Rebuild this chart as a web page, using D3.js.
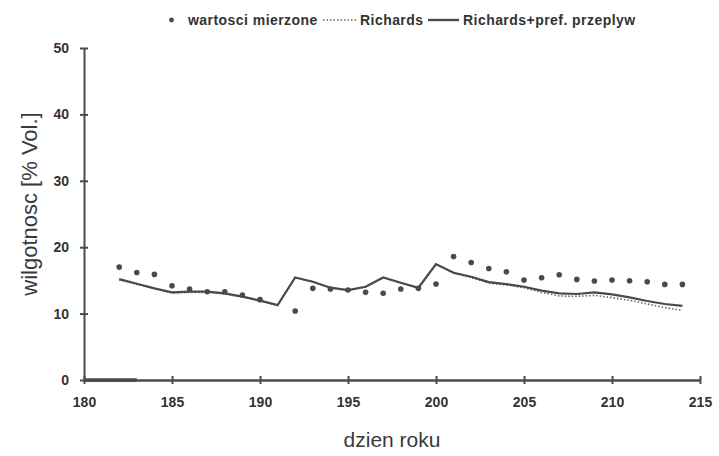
<!DOCTYPE html>
<html>
<head>
<meta charset="utf-8">
<script src="https://cdn.jsdelivr.net/npm/d3@7/dist/d3.min.js"></script>
<style>
  html, body { margin: 0; padding: 0; background: #fff; }
  svg { display: block; }
  text { font-family: "Liberation Sans", Arial, sans-serif; }
</style>
</head>
<body>
<svg id="chart" width="719" height="456"></svg>
<script>
// Soil moisture: measured values vs. Richards model runs
const days = [182,183,184,185,186,187,188,189,190,191,192,193,194,195,196,197,198,199,200,201,202,203,204,205,206,207,208,209,210,211,212,213,214];
const measuredDays = [182,183,184,185,186,187,188,189,190,192,193,194,195,196,197,198,199,200,201,202,203,204,205,206,207,208,209,210,211,212,213,214];
const measured = [17.0,16.2,15.9,14.2,13.7,13.3,13.3,12.8,12.1,10.4,13.8,13.7,13.55,13.2,13.05,13.7,13.8,14.45,18.6,17.7,16.8,16.3,15.05,15.4,15.85,15.15,14.9,15.05,14.95,14.8,14.4,14.4];
const richards = [15.1,14.4,13.8,13.1,13.2,13.2,12.95,12.5,11.9,11.2,15.4,14.8,13.9,13.5,14.0,15.4,14.6,13.8,17.4,16.1,15.4,14.6,14.3,13.9,13.2,12.65,12.6,12.75,12.4,12.0,11.45,10.9,10.5];
const richardsPref = [15.2,14.5,13.8,13.2,13.3,13.3,13.05,12.55,11.95,11.3,15.45,14.8,13.9,13.55,14.05,15.45,14.65,13.9,17.45,16.15,15.55,14.75,14.45,14.05,13.45,13.05,12.95,13.2,12.9,12.45,11.9,11.45,11.15];
const xTicks = [180,185,190,195,200,205,210,215];
const yTicks = [0,10,20,30,40,50];
const legendLabels = ["wartosci mierzone", "Richards", "Richards+pref. przeplyw"];

const svg = d3.select("#chart");
const ink = "#4a4a4a";
const textInk = "#333";

const x = d3.scaleLinear().domain([180, 215]).range([84, 700]);
const y = d3.scaleLinear().domain([0, 50]).range([380, 48]);

// axes
const xAxis = d3.axisBottom(x).tickValues(xTicks).tickSizeInner(0).tickSizeOuter(0).tickPadding(17);
const gx = svg.append("g").attr("transform", "translate(0,380)").call(xAxis);
gx.select(".domain").attr("stroke", ink).attr("stroke-width", 2.5);
gx.selectAll(".tick line").remove();
gx.selectAll(".tick").append("line").attr("y1", -4).attr("y2", 4).attr("stroke", ink).attr("stroke-width", 2);
gx.selectAll(".tick text").attr("fill", textInk).attr("font-size", 14).attr("font-weight", "bold").attr("dy", "0.71em");

const yAxis = d3.axisLeft(y).tickValues(yTicks).tickSizeInner(0).tickSizeOuter(0).tickPadding(15);
const gy = svg.append("g").attr("transform", "translate(84,0)").call(yAxis);
gy.select(".domain").attr("stroke", ink).attr("stroke-width", 2);
gy.selectAll(".tick line").remove();
gy.selectAll(".tick").append("line").attr("x1", -4).attr("x2", 4).attr("stroke", ink).attr("stroke-width", 2);
gy.selectAll(".tick text").attr("fill", textInk).attr("font-size", 14).attr("font-weight", "bold");

// short heavy stroke along the baseline at the start of the period
svg.append("line").attr("x1", x(180)).attr("x2", x(183)).attr("y1", y(0)).attr("y2", y(0))
  .attr("stroke", ink).attr("stroke-width", 3.5);

// model lines
const line = d3.line().x((d, i) => x(days[i])).y(d => y(d));
svg.append("path").datum(richards).attr("d", line)
  .attr("fill", "none").attr("stroke", "#666").attr("stroke-width", 1.6).attr("stroke-dasharray", "1.5,2");
svg.append("path").datum(richardsPref).attr("d", line)
  .attr("fill", "none").attr("stroke", ink).attr("stroke-width", 2.2);

// measured points
svg.append("g").selectAll("circle").data(measured).join("circle")
  .attr("cx", (d, i) => x(measuredDays[i])).attr("cy", d => y(d)).attr("r", 2.8).attr("fill", ink);

// axis titles
svg.append("text").attr("x", 392).attr("y", 447).attr("text-anchor", "middle")
  .attr("font-size", 21).attr("fill", "#3a3a3a").text("dzien roku");
svg.append("text").attr("transform", "translate(37,204) rotate(-90)").attr("text-anchor", "middle")
  .attr("font-size", 22).attr("fill", "#3a3a3a").text("wilgotnosc [% Vol.]");

// legend
const lg = svg.append("g").attr("font-size", 14).attr("font-weight", "bold")
  .attr("letter-spacing", 0.45).attr("fill", textInk);
lg.append("circle").attr("cx", 171.5).attr("cy", 20).attr("r", 2.4).attr("fill", ink);
lg.append("text").attr("x", 188).attr("y", 25).text(legendLabels[0]);
lg.append("line").attr("x1", 323).attr("x2", 358).attr("y1", 20).attr("y2", 20)
  .attr("stroke", "#666").attr("stroke-width", 1.6).attr("stroke-dasharray", "1.5,2");
lg.append("text").attr("x", 360).attr("y", 25).text(legendLabels[1]);
lg.append("line").attr("x1", 428).attr("x2", 459).attr("y1", 20).attr("y2", 20)
  .attr("stroke", ink).attr("stroke-width", 2.4);
lg.append("text").attr("x", 463).attr("y", 25).text(legendLabels[2]);
</script>
</body>
</html>
